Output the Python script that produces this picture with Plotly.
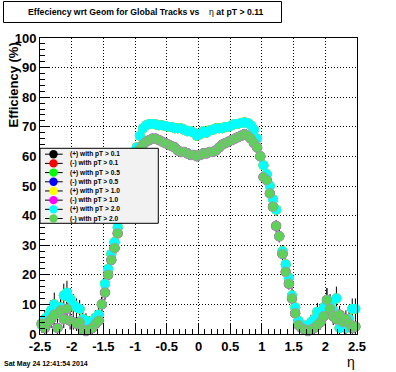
import plotly.graph_objects as go

# ---------------- data ----------------
eta = [round(-2.475 + 0.05 * i, 3) for i in range(100)]  # bin centres

eff_plus = [
    3, 5, 6, 8, 10, 7, 9, 13, 14, 12,
    10, 9, 8.5, 5, 4.5, 4, 3.5, 5.5, 6.5, 10,
    17, 22, 27, 31, 36, 41, 46, 50, 54, 58,
    63, 67, 69.5, 70.5, 71, 71, 70.8, 70.5, 70.5, 70.3,
    70, 70, 69.5, 69.5, 69.5, 69, 68.5, 68.5, 68, 67,
    67.5, 68.5, 68, 68.8, 69, 69.5, 69.5, 69.5, 70, 70,
    70.5, 71, 71, 71.3, 71.5, 71.3, 70.5, 69, 66, 60,
    57, 54, 50, 45.5, 42, 33, 28, 23.5, 19, 13,
    9, 4.5, 3, 2.5, 3, 4, 5, 7.5, 6.5, 9,
    11.5, 10, 8, 12, 2, 4, 2, 5, 8.5, 8.5,
]
eff_minus = [
    3.5, 2, 4, 5, 6.5, 2, 8, 5, 8.5, 4.5,
    4, 3.5, 4, 1.5, 1, 1.5, 2, 3.5, 4.5, 10,
    14, 20, 25, 29, 34, 39, 44, 48, 52, 56,
    60, 62.5, 64, 65, 65.5, 66, 66, 65.5, 65, 64.5,
    64, 63.5, 63, 62, 61.5, 61.5, 61, 60.5, 60.5, 60,
    60.5, 61, 61, 61.5, 61.5, 62, 63, 64, 64.5, 65,
    65.5, 66, 66.5, 67, 67.5, 67, 66, 64.5, 63, 60,
    53, 52, 47.5, 43, 36.5, 33, 27, 21, 17, 12,
    7, 3, 2, 1.5, 1, 1.5, 2, 3, 4, 6,
    11.5, 8.5, 6, 5, 6.5, 4, 5, 3.5, 2, 2.5,
]
err_plus = [
    2.5, 3, 3, 3.5, 4, 3, 3.5, 4, 4, 3.5,
    3.5, 3, 3, 2.5, 2.5, 2, 2, 2.5, 2.5, 2.5,
    2.5, 2.5, 2, 2, 2, 1.5, 1.5, 1.5, 1.5, 1.5,
    1.5, 1, 1, 1, 1, 1, 1, 1, 1, 1,
    1, 1, 1, 1, 1, 1, 1, 1, 1, 1,
    1, 1, 1, 1, 1, 1, 1, 1, 1, 1,
    1, 1, 1, 1, 1, 1, 1, 1, 1, 1.5,
    1.5, 1.5, 1.5, 1.5, 2, 2, 2, 2, 2, 2.5,
    2.5, 2, 2, 2, 2, 2.5, 2.5, 3, 3, 3.5,
    4, 3.5, 3, 4, 2, 3, 2, 3, 3.5, 3.5,
]
err_minus = [
    2.5, 2, 3, 3, 3.5, 2, 4, 3, 4, 3,
    2.5, 2.5, 2.5, 1.5, 1.5, 1.5, 2, 2, 2.5, 2.5,
    2.5, 2.5, 2, 2, 2, 1.5, 1.5, 1.5, 1.5, 1.5,
    1.5, 1, 1, 1, 1, 1, 1, 1, 1, 1,
    1, 1, 1, 1, 1, 1, 1, 1, 1, 1,
    1, 1, 1, 1, 1, 1, 1, 1, 1, 1,
    1, 1, 1, 1, 1, 1, 1, 1, 1, 1.5,
    1.5, 1.5, 1.5, 1.5, 2, 2, 2, 2, 2, 2.5,
    2.5, 2, 1.5, 1.5, 1.5, 1.5, 2, 2, 2.5, 3,
    4, 3.5, 3, 3, 3, 3, 3, 2.5, 2, 2.5,
]

series_names = [
    "(+) with pT > 0.1", "(-) with pT > 0.1",
    "(+) with pT > 0.5", "(-) with pT > 0.5",
    "(+) with pT > 1.0", "(-) with pT > 1.0",
    "(+) with pT > 2.0", "(-) with pT > 2.0",
]
series_colors = ["#000000", "#ff0000", "#00ff00", "#0000ff",
                 "#ffff00", "#ff00ff", "#00ffff", "#5cd257"]

x_tickvals = [-2.5, -2, -1.5, -1, -0.5, 0, 0.5, 1, 1.5, 2, 2.5]
x_ticktext = ["-2.5", "-2", "-1.5", "-1", "-0.5", "0", "0.5", "1", "1.5", "2", "2.5"]
y_tickvals = [0, 10, 20, 30, 40, 50, 60, 70, 80, 90, 100]
y_ticktext = ["0", "10", "20", "30", "40", "50", "60", "70", "80", "90", "100"]

title_text = ("<b>Effeciency wrt Geom for Global Tracks vs</b>"
              "\u00a0\u00a0\u00a0\u00a0η <b>at pT > 0.11</b>")
date_text = "Sat May 24 12:41:54 2014"

# ---------------- geometry helpers (pixels -> paper) ----------------
W, H = 396, 372
L, R, T, B = 40, 39, 38, 38
PW, PH = W - L - R, H - T - B


def px(x):
    return (x - L) / PW


def py(y):
    return (H - B - y) / PH


FONT = "Liberation Sans, Arial, sans-serif"

fig = go.Figure()
for k, (name, col) in enumerate(zip(series_names, series_colors)):
    plus = (k % 2 == 0)
    vals = eff_plus if plus else eff_minus
    errs = err_plus if plus else err_minus
    marker = dict(symbol="circle", size=9.8, color=col)
    if k == 7:
        marker["line"] = dict(color="#a894b0", width=0.7)
    else:
        marker["line"] = dict(width=0)
    tr = dict(x=eta, y=vals, mode="markers", name=name, marker=marker,
              showlegend=False, cliponaxis=(k < 2), hoverinfo="skip")
    if k < 2:
        tr["error_y"] = dict(type="data", array=errs, visible=True,
                             color="#000000", thickness=1, width=0)
    fig.add_trace(go.Scatter(**tr))

axis_common = dict(
    showline=True, linecolor="black", linewidth=1, mirror=True,
    ticks="inside", tickcolor="black", ticklen=10, tickwidth=1,
    showgrid=True, gridcolor="black", gridwidth=1, griddash="1px,2px",
    zeroline=False,
    tickfont=dict(family=FONT, size=13, color="black", weight="bold"),
)

fig.update_xaxes(range=[-2.5, 2.5], tickmode="array", tickvals=x_tickvals,
                 ticktext=x_ticktext,
                 minor=dict(dtick=0.1, tick0=0, ticks="inside", ticklen=5,
                            tickcolor="black", showgrid=False),
                 **axis_common)
fig.update_yaxes(range=[0, 100], tickmode="array", tickvals=y_tickvals,
                 ticktext=y_ticktext,
                 minor=dict(dtick=2, tick0=0, ticks="inside", ticklen=5,
                            tickcolor="black", showgrid=False),
                 **axis_common)

shapes = []
annotations = []

# title box
shapes.append(dict(type="rect", xref="paper", yref="paper",
                   x0=px(3.5), x1=px(281.5), y0=py(22.5), y1=py(1.5),
                   line=dict(color="black", width=1), fillcolor="white",
                   layer="above"))
annotations.append(dict(xref="paper", yref="paper", x=px(146), y=py(12.5),
                        xanchor="center", yanchor="middle", showarrow=False,
                        text=title_text,
                        font=dict(family=FONT, size=8.7, color="black")))

# legend box
lg_x0, lg_x1, lg_y0, lg_y1 = 40, 158.3, 148.3, 223.3
shapes.append(dict(type="rect", xref="paper", yref="paper",
                   x0=px(lg_x0), x1=px(lg_x1), y0=py(lg_y1), y1=py(lg_y0),
                   line=dict(color="black", width=1), fillcolor="#f2f2f2",
                   layer="above"))
rpx = 4.2
for k, (name, col) in enumerate(zip(series_names, series_colors)):
    yc = 154.2 + 9.19 * k
    shapes.append(dict(type="line", xref="paper", yref="paper",
                       x0=px(45), x1=px(62.7), y0=py(yc), y1=py(yc),
                       line=dict(color="black", width=1), layer="above"))
    shapes.append(dict(type="circle", xref="paper", yref="paper",
                       x0=px(53.5 - rpx), x1=px(53.5 + rpx),
                       y0=py(yc + rpx), y1=py(yc - rpx),
                       fillcolor=col, line=dict(width=0), layer="above"))
    annotations.append(dict(xref="paper", yref="paper", x=px(68), y=py(yc),
                            xanchor="left", yanchor="middle", showarrow=False,
                            text=name,
                            font=dict(family=FONT, size=6.6, color="black",
                                      weight="bold")))

# axis titles
annotations.append(dict(xref="paper", yref="paper", x=px(12.5), y=py(85),
                        xanchor="center", yanchor="middle", showarrow=False,
                        textangle=-90, text="Efficiency (%)",
                        font=dict(family=FONT, size=13, color="black",
                                  weight="bold")))
annotations.append(dict(xref="paper", yref="paper", x=px(351), y=py(362),
                        xanchor="center", yanchor="middle", showarrow=False,
                        text="η",
                        font=dict(family=FONT, size=14, color="black")))
# date stamp
annotations.append(dict(xref="paper", yref="paper", x=px(2), y=py(364),
                        xanchor="left", yanchor="middle", showarrow=False,
                        text=date_text,
                        font=dict(family=FONT, size=7, color="black",
                                  weight="bold")))

fig.update_layout(
    width=W, height=H,
    margin=dict(l=L, r=R, t=T, b=B, pad=0),
    paper_bgcolor="white", plot_bgcolor="white",
    showlegend=False, hovermode=False,
    shapes=shapes, annotations=annotations,
    font=dict(family=FONT, color="black"),
)

fig.write_html("out.html",
               config={"displayModeBar": False, "staticPlot": True},
               post_script="document.body.style.margin='0';"
                           "document.body.style.padding='0';"
                           "document.body.style.overflow='hidden';")
